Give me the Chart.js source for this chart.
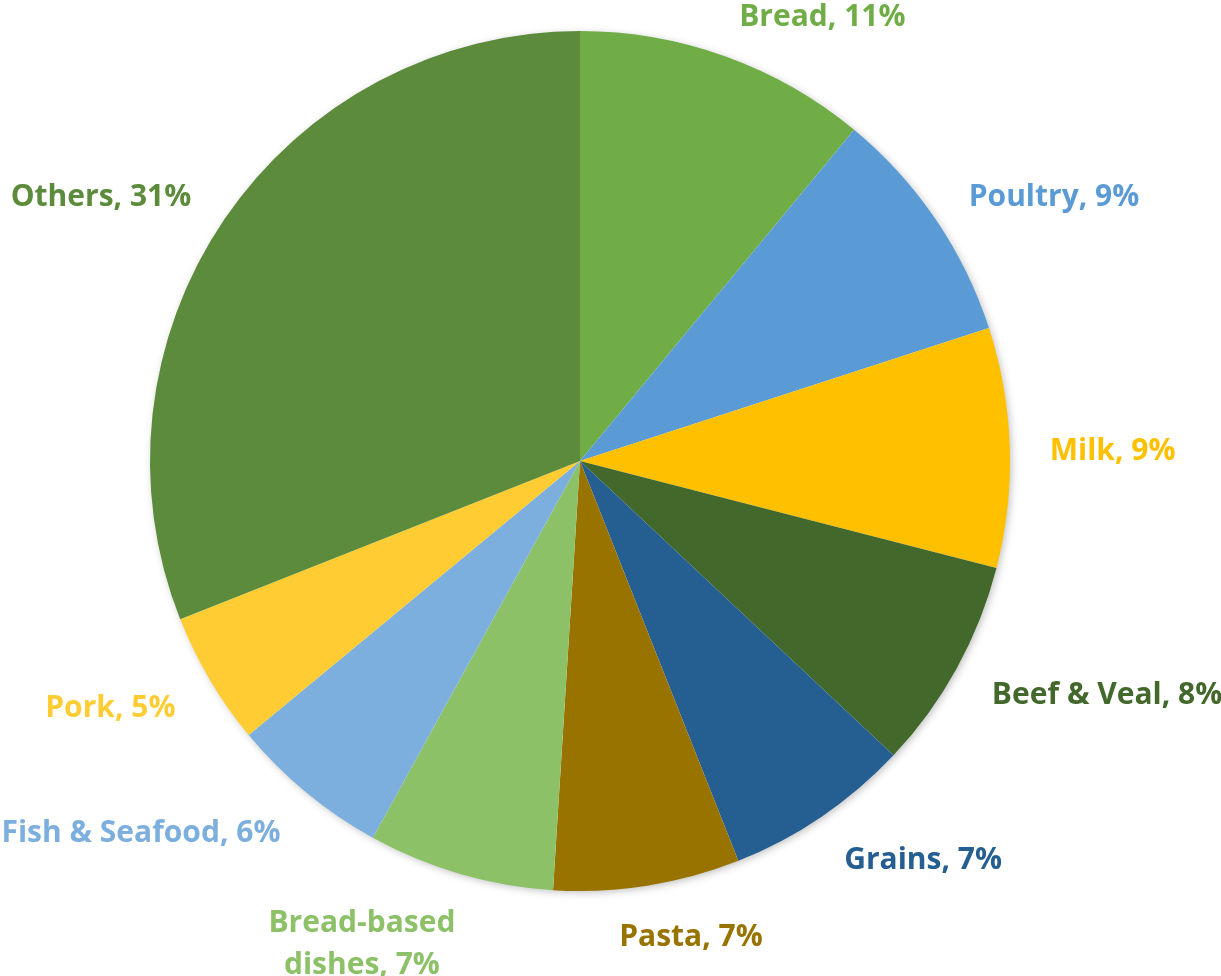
<!DOCTYPE html>
<html>
<head>
<meta charset="utf-8">
<script src="https://cdn.jsdelivr.net/npm/chart.js@4.4.1/dist/chart.umd.min.js"></script>
<style>
  html, body { margin: 0; padding: 0; background: #fff; }
  #wrap { width: 1221px; height: 976px; }
</style>
</head>
<body>
<div id="wrap"><canvas id="grafico"></canvas></div>
<script>
const categorias = ['Bread', 'Poultry', 'Milk', 'Beef & Veal', 'Grains', 'Pasta',
    ['Bread-based', 'dishes'], 'Fish & Seafood', 'Pork', 'Others'];
const porcentajes = [11, 9, 9, 8, 7, 7, 7, 6, 5, 31];
const colores = ['#70AD47', '#5B9BD5', '#FFC000', '#43682B', '#255E91',
    '#997300', '#8CC168', '#7CAFDD', '#FFCD33', '#5B8B3B'];

const FUENTE = 'bold 30px "Open Sans", Lato, sans-serif';

// sombra suave solo en el borde exterior del pastel
const sombra = {
    id: 'sombra',
    beforeDatasetsDraw: (chart) => {
        const arc = chart.getDatasetMeta(0).data[0];
        if (!arc) return;
        const ctx = chart.ctx;
        ctx.save();
        ctx.shadowColor = 'rgba(0,0,0,0.28)';
        ctx.shadowBlur = 8;
        ctx.shadowOffsetX = 2;
        ctx.shadowOffsetY = 2;
        ctx.fillStyle = '#fff';
        ctx.beginPath();
        ctx.arc(arc.x, arc.y, arc.outerRadius - 1, 0, Math.PI * 2);
        ctx.fill();
        ctx.restore();
    }
};

// etiquetas "Nombre, NN%" fuera de cada rebanada
const etiquetas = {
    id: 'etiquetas',
    afterDraw: (chart) => {
        const ctx = chart.ctx;
        const meta = chart.getDatasetMeta(0);
        ctx.save();
        ctx.font = FUENTE;
        ctx.textBaseline = 'middle';
        ctx.textAlign = 'left';
        const altoLinea = 42;
        meta.data.forEach((arc, i) => {
            const p = arc.getProps(['x', 'y', 'startAngle', 'endAngle', 'outerRadius'], true);
            const a = (p.startAngle + p.endAngle) / 2;
            const r = p.outerRadius + 40;
            const px = p.x + Math.cos(a) * r;
            const py = p.y + Math.sin(a) * r;
            const nombre = categorias[i];
            const lineas = Array.isArray(nombre) ? nombre.slice() : [nombre];
            lineas[lineas.length - 1] += ', ' + porcentajes[i] + '%';
            const w = Math.max(...lineas.map(t => ctx.measureText(t).width));
            const c = Math.cos(a), s = Math.sin(a);
            let x0 = c >= 0 ? px : px - w;
            const centrar = Math.max(0, 1 - Math.abs(c) / 0.3) * 0.5 * w;
            x0 += c >= 0 ? -centrar : centrar;
            const altoBloque = lineas.length * altoLinea;
            const yc = py + s * ((altoBloque - altoLinea) / 2 + 7) + 5;
            ctx.fillStyle = colores[i];
            lineas.forEach((t, k) => {
                const tw = ctx.measureText(t).width;
                const y = yc - altoBloque / 2 + altoLinea * (k + 0.5);
                ctx.fillText(t, x0 + (w - tw) / 2, y);
            });
        });
        ctx.restore();
    }
};

new Chart(document.getElementById('grafico'), {
    type: 'pie',
    data: {
        labels: categorias,
        datasets: [{
            data: porcentajes,
            backgroundColor: colores,
            borderWidth: 0
        }]
    },
    options: {
        responsive: true,
        maintainAspectRatio: false,
        animation: false,
        layout: { padding: { left: 150, right: 211, top: 31, bottom: 85 } },
        plugins: {
            legend: { display: false },
            tooltip: { enabled: false }
        }
    },
    plugins: [sombra, etiquetas]
});
</script>
</body>
</html>
